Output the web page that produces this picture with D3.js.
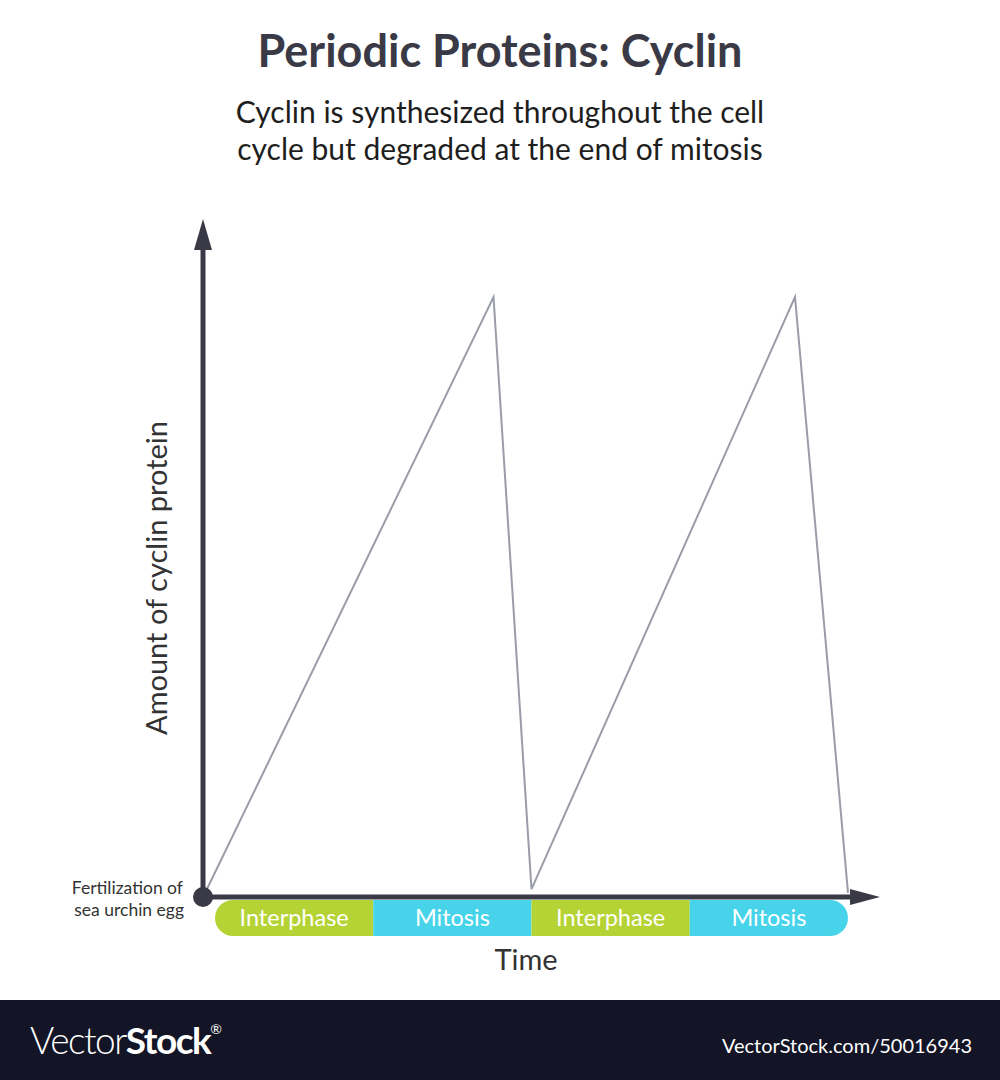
<!DOCTYPE html>
<html><head><meta charset="utf-8">
<script src="https://cdn.jsdelivr.net/npm/d3@7"></script>
<style>html,body{margin:0;padding:0;background:#fff}svg{display:block}</style>
</head><body>
<script>
// Data
const times = [-0.075, 1.76, 2.0, 3.665, 4.0];
const cyclin = [0, 100, 1.3, 100, 0.7];
const phases = ["Interphase", "Mitosis", "Interphase", "Mitosis"];
const phaseStart = [0, 1, 2, 3];
const phaseEnd = [1, 2, 3, 4];
const title = "Periodic Proteins: Cyclin";
const subtitle = ["Cyclin is synthesized throughout the cell", "cycle but degraded at the end of mitosis"];

const W = 1000, H = 1080;
const font = "Lato, 'Open Sans', sans-serif";
const dark = "#3a3a47";
const svg = d3.select("body").append("svg").attr("width", W).attr("height", H);
svg.append("rect").attr("width", W).attr("height", H).attr("fill", "#fff");

const x = d3.scaleLinear().domain([0, 4]).range([215, 848]);
const y = d3.scaleLinear().domain([0, 100]).range([897, 297]);
const x0 = 203, y0 = 897;

// title
svg.append("text").attr("x", 500).attr("y", 67).attr("text-anchor", "middle")
  .attr("font-family", font).attr("font-weight", 700).attr("font-size", 45).attr("fill", dark).text(title);
subtitle.forEach((s, i) => svg.append("text").attr("x", 500).attr("y", 123 + i * 37).attr("text-anchor", "middle")
  .attr("font-family", font).attr("font-size", 30).attr("fill", "#1e1e1e").text(s));

// phase bar
const clipId = "barclip";
svg.append("clipPath").attr("id", clipId).append("rect")
  .attr("x", x(0)).attr("y", 900).attr("width", x(4) - x(0)).attr("height", 36).attr("rx", 18);
const bar = svg.append("g").attr("clip-path", `url(#${clipId})`);
bar.selectAll("rect").data(phases).join("rect")
  .attr("x", (d, i) => x(phaseStart[i])).attr("width", (d, i) => x(phaseEnd[i]) - x(phaseStart[i]))
  .attr("y", 900).attr("height", 36)
  .attr("fill", d => d === "Interphase" ? "#b5d334" : "#47d4ea");
svg.selectAll("text.ph").data(phases).join("text").attr("class", "ph")
  .attr("x", (d, i) => (x(phaseStart[i]) + x(phaseEnd[i])) / 2).attr("y", 926)
  .attr("text-anchor", "middle").attr("font-family", font).attr("font-size", 23.5).attr("fill", "#fff").text(d => d);

// line
const line = d3.line().x(d => x(d[0])).y(d => y(d[1]));
svg.append("path").datum(times.map((t, i) => [t, cyclin[i]]))
  .attr("d", line).attr("fill", "none").attr("stroke", "#9a9ca8").attr("stroke-width", 2).attr("stroke-linejoin", "miter");

// axes
svg.append("line").attr("x1", x0).attr("y1", y0).attr("x2", x0).attr("y2", 245).attr("stroke", dark).attr("stroke-width", 5);
svg.append("path").attr("d", `M${x0 - 9},250 L${x0},219 L${x0 + 9},250 Z`).attr("fill", dark);
svg.append("line").attr("x1", x0).attr("y1", y0).attr("x2", 855).attr("y2", y0).attr("stroke", dark).attr("stroke-width", 5);
svg.append("path").attr("d", `M850,${y0 - 8} L880,${y0} L850,${y0 + 8} Z`).attr("fill", dark);
svg.append("circle").attr("cx", x0).attr("cy", y0).attr("r", 10).attr("fill", dark);

// labels
svg.append("text").attr("x", 526).attr("y", 970).attr("text-anchor", "middle")
  .attr("font-family", font).attr("font-size", 29).attr("fill", "#333").text("Time");
svg.append("text").attr("transform", "translate(167,578) rotate(-90)").attr("text-anchor", "middle")
  .attr("font-family", font).attr("font-size", 29).attr("fill", "#333").text("Amount of cyclin protein");
svg.append("text").attr("x", 183).attr("y", 894).attr("text-anchor", "end")
  .attr("font-family", font).attr("font-size", 17.5).attr("fill", "#333").text("Fertilization of");
svg.append("text").attr("x", 184).attr("y", 916).attr("text-anchor", "end")
  .attr("font-family", font).attr("font-size", 17.5).attr("fill", "#333").text("sea urchin egg");

// footer
svg.append("rect").attr("x", 0).attr("y", 1000).attr("width", W).attr("height", 80).attr("fill", "#131426");
const vs = svg.append("text").attr("x", 30).attr("y", 1054).attr("font-family", font).attr("font-size", 37)
  .attr("letter-spacing", -1.5).attr("fill", "#fff");
vs.append("tspan").attr("font-weight", 300).text("Vector");
vs.append("tspan").attr("font-weight", 700).text("Stock");
vs.append("tspan").attr("font-size", 14).attr("dy", -20).attr("letter-spacing", 0).text("®");
svg.append("text").attr("x", 972).attr("y", 1053).attr("text-anchor", "end").attr("font-family", font)
  .attr("font-size", 20).attr("fill", "#fff").text("VectorStock.com/50016943");
</script>
</body></html>
